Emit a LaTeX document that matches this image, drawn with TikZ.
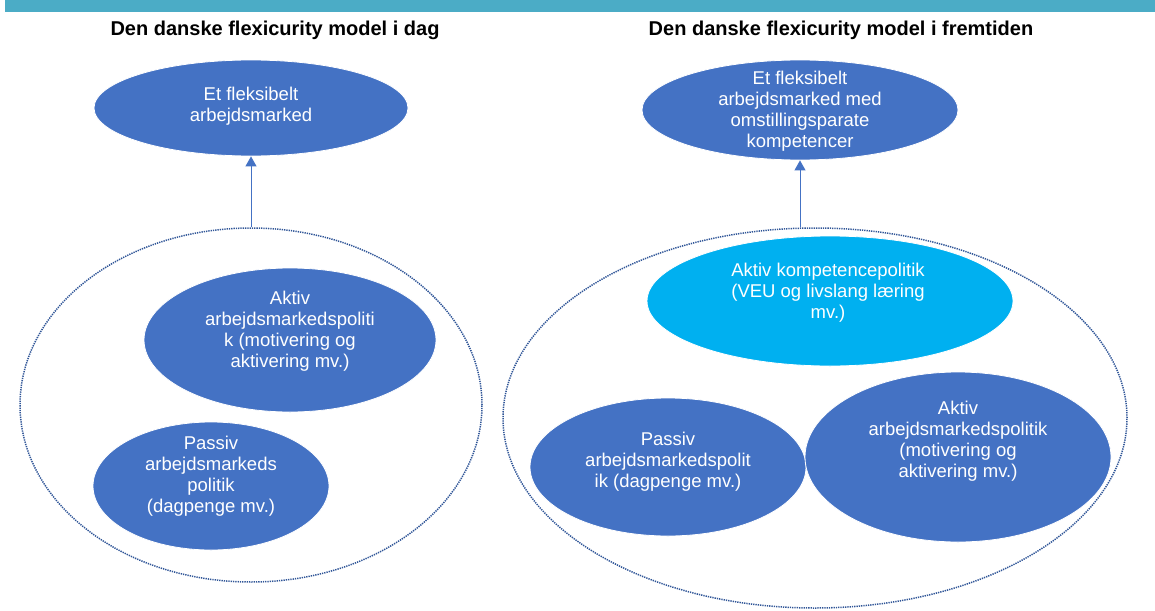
\documentclass[tikz,border=0pt]{standalone}
\usepackage{fontspec}
\setmainfont{Liberation Sans}
\usetikzlibrary{positioning, shapes.geometric, arrows.meta}

\definecolor{bandteal}{HTML}{4BACC6}
\definecolor{ovalblue}{HTML}{4472C4}
\definecolor{ovalcyan}{HTML}{00B0F0}
\definecolor{dotblue}{HTML}{2F5597}

\tikzset{
  oval/.style={ellipse, fill=ovalblue, draw=white, line width=0.8pt, inner sep=0pt},
  ovaltext/.style={text=white, align=center, font=\fontsize{18.5}{21}\selectfont},
  ring/.style={ellipse, draw=dotblue, line width=1.5pt, dash pattern=on 1.3pt off 1pt, inner sep=0pt},
  title/.style={font=\bfseries\fontsize{20}{24}\selectfont},
  uparrow/.style={-{Triangle[width=11pt,length=10pt]}, draw=ovalblue, line width=1pt}
}

\begin{document}
\begin{tikzpicture}[x=1pt, y=-1pt]
    \useasboundingbox (0,0) rectangle (1155,610);

    % Top band
    \fill[bandteal] (5,0) rectangle (1155,12);

    % Titles
    \node[title] (titleL) at (275,30) {Den danske flexicurity model i dag};
    \node[title] (titleR) at (841,30) {Den danske flexicurity model i fremtiden};

    % Left model: today
    \node[ring, minimum width=462pt, minimum height=354pt] (ringL) at (251,405) {};
    \node[oval, minimum width=314pt, minimum height=96pt] (goalL) at (251,108) {};
    \node[ovaltext] (goalLtext) at (251,106) {Et fleksibelt\\arbejdsmarked};
    \node[oval, minimum width=292pt, minimum height=144pt] (aktivL) at (290,340) {};
    \node[ovaltext] (aktivLtext) at (290,331) {Aktiv\\arbejdsmarkedspoliti\\k (motivering og\\aktivering mv.)};
    \node[oval, minimum width=236pt, minimum height=128pt] (passivL) at (211,486) {};
    \node[ovaltext] (passivLtext) at (211,476) {Passiv\\arbejdsmarkeds\\politik\\(dagpenge mv.)};
    \draw[uparrow] (goalL.south |- ringL.north) -- (goalL.south);

    % Right model: the future
    \node[ring, minimum width=624pt, minimum height=380pt] (ringR) at (815,418) {};
    \node[oval, minimum width=316pt, minimum height=100pt] (goalR) at (800,110) {};
    \node[ovaltext] (goalRtext) at (800,111) {Et fleksibelt\\arbejdsmarked med\\omstillingsparate\\kompetencer};
    \node[oval, fill=ovalcyan, minimum width=366pt, minimum height=130pt] (kompR) at (830,301) {};
    \node[ovaltext] (kompRtext) at (828,293) {Aktiv kompetencepolitik\\(VEU og livslang læring\\mv.)};
    \node[oval, minimum width=276pt, minimum height=138pt] (passivR) at (668,467) {};
    \node[ovaltext] (passivRtext) at (668,462) {Passiv\\arbejdsmarkedspolit\\ik (dagpenge mv.)};
    \node[oval, minimum width=306pt, minimum height=170pt] (aktivR) at (958,457) {};
    \node[ovaltext] (aktivRtext) at (958,441) {Aktiv\\arbejdsmarkedspolitik\\(motivering og\\aktivering mv.)};
    \draw[uparrow] (goalR.south |- ringR.north) -- (goalR.south);

\end{tikzpicture}
\end{document}
